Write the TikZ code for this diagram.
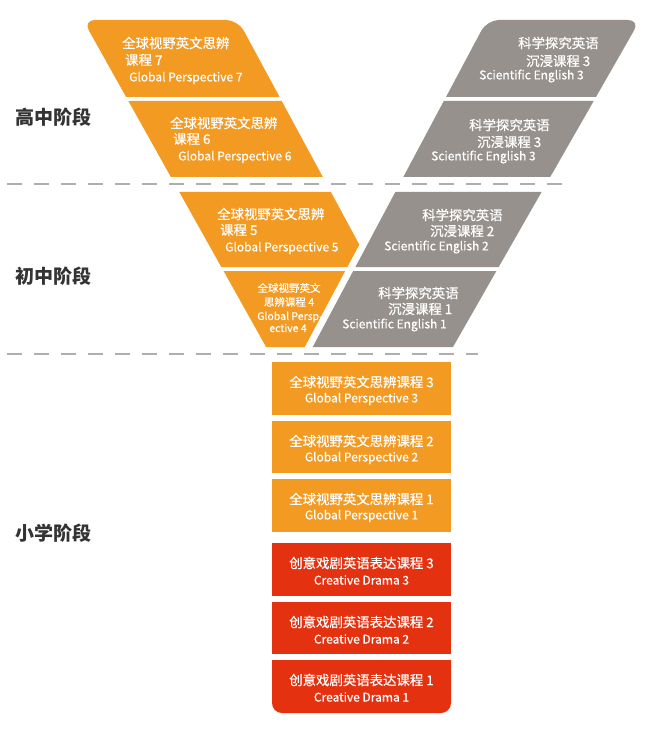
\documentclass[tikz,border=0pt]{standalone}
\usepackage{fontspec}
\setmainfont{Noto Sans CJK SC}
\newfontfamily\medfont{Noto Sans CJK SC}[FakeBold=0.7]
\usetikzlibrary{calc}
\definecolor{gporange}{HTML}{F29A22}
\definecolor{segray}{HTML}{96918C}
\definecolor{cdred}{HTML}{E4310F}
\definecolor{stagecol}{HTML}{333333}
\definecolor{dashcol}{HTML}{AEAEAE}
\newcommand{\lat}[1]{{\fontsize{12}{14}\selectfont #1}}
\tikzset{
  txt/.style={text=white, inner sep=0pt, font=\medfont\fontsize{13.4}{15}\selectfont},
  txtw/.style={txt, anchor=west},
  txts/.style={text=white, inner sep=0pt, font=\medfont\fontsize{10.5}{12}\selectfont},
  stage/.style={anchor=west, inner sep=0pt, text=stagecol, font=\fontsize{19}{22}\selectfont\bfseries},
  divider/.style={dashcol, line width=1.6pt, dash pattern=on 15pt off 12pt},
}
\begin{document}
\begin{tikzpicture}[x=1pt,y=-1pt]
\useasboundingbox[fill=white] (0,0) rectangle (650,735);

% ---- left (orange) arm of the V
\fill[gporange] (126.1,97) [rounded corners=12pt] -- (83,20) -- (238,20) [sharp corners] -- (279.6,97) -- cycle;
\fill[gporange] (128.4,101) -- (281.7,101) -- (322.8,177) -- (170.9,177) -- cycle;
\fill[gporange] (179.3,192) -- (330.9,192) -- (359.3,244.6) -- (347.4,267) -- (221.3,267) -- cycle;
\fill[gporange] (223.6,271) -- (345.2,271) -- (304.7,347) -- (266.1,347) -- cycle;

% ---- right (gray) arm of the V
\fill[segray] (446,97) [rounded corners=12pt] -- (487,20) -- (640,20) [sharp corners] -- (596,97) -- cycle;
\fill[segray] (443.8,101) -- (593.7,101) -- (550.2,177) -- (403.3,177) -- cycle;
\fill[segray] (395.3,192) -- (541.6,192) -- (498.7,267) -- (355.4,267) -- cycle;
\fill[segray] (353.2,271) -- (496.4,271) -- (453,347) -- (312.7,347) -- cycle;

% ---- bottom stack
\fill[gporange] (272,362) rectangle (451,415);
\fill[gporange] (272,421) rectangle (451,473);
\fill[gporange] (272,479) rectangle (451,532);
\fill[cdred] (272,543) rectangle (451,596);
\fill[cdred] (272,602) rectangle (451,654);
\fill[cdred] (272,660) [rounded corners=10pt] -- (272,713) -- (451,713) [sharp corners] -- (451,660) -- cycle;

% ---- dividers
\coordinate (d1a) at (7,184);
\coordinate (d1b) at (563,184);
\coordinate (d2a) at (7,354);
\coordinate (d2b) at (478,354);
\draw[divider] (d1a) -- (d1b);
\draw[divider] (d2a) -- (d2b);

% ---- stage labels
\node[stage] (s1) at (15,117) {高中阶段};
\node[stage] (s2) at (15,276) {初中阶段};
\node[stage] (s3) at (15,533) {小学阶段};

% ---- orange V texts
\node[txtw] (o7a) at (122,43) {全球视野英文思辨};
\node[txtw] (o7b) at (125,60) {课程 7};
\node[txtw] (o7c) at (129,78) {\lat{Global Perspective 7}};
\node[txtw] (o6a) at (170,123) {全球视野英文思辨};
\node[txtw] (o6b) at (173,139) {课程 6};
\node[txtw] (o6c) at (178,157) {\lat{Global Perspective 6}};
\node[txtw] (o5a) at (217,214) {全球视野英文思辨};
\node[txtw] (o5b) at (220,230) {课程 5};
\node[txtw] (o5c) at (225,248) {\lat{Global Perspective 5}};
\node[txts] (o4a) at (289,288) {全球视野英文};
\node[txts] (o4b) at (289,302) {思辨课程 4};
\node[txts] (o4c) at (290,317) {Global Persp-};
\node[txts] (o4d) at (288,328) {ective 4};

% ---- gray V texts
\node[txtw] (g3a) at (518,43) {科学探究英语};
\node[txtw] (g3b) at (526,61) {沉浸课程 3};
\node[txtw] (g3c) at (479,76) {\lat{Scientific English 3}};
\node[txtw] (g3d) at (469,125) {科学探究英语};
\node[txtw] (g3e) at (477,142) {沉浸课程 3};
\node[txtw] (g3f) at (431,157) {\lat{Scientific English 3}};
\node[txtw] (g2a) at (422,215) {科学探究英语};
\node[txtw] (g2b) at (430,231) {沉浸课程 2};
\node[txtw] (g2c) at (384,247) {\lat{Scientific English 2}};
\node[txtw] (g1a) at (378,293) {科学探究英语};
\node[txtw] (g1b) at (388,309) {沉浸课程 1};
\node[txtw] (g1c) at (342,325) {\lat{Scientific English 1}};

% ---- bottom texts
\node[txt] (b3a) at (361.5,382) {全球视野英文思辨课程 3};
\node[txt] (b3b) at (361.5,399) {\lat{Global Perspective 3}};
\node[txt] (b2a) at (361.5,441) {全球视野英文思辨课程 2};
\node[txt] (b2b) at (361.5,458) {\lat{Global Perspective 2}};
\node[txt] (b1a) at (361.5,499) {全球视野英文思辨课程 1};
\node[txt] (b1b) at (361.5,516) {\lat{Global Perspective 1}};
\node[txt] (c3a) at (361.5,563) {创意戏剧英语表达课程 3};
\node[txt] (c3b) at (361.5,580) {\lat{Creative Drama 3}};
\node[txt] (c2a) at (361.5,622) {创意戏剧英语表达课程 2};
\node[txt] (c2b) at (361.5,639) {\lat{Creative Drama 2}};
\node[txt] (c1a) at (361.5,680) {创意戏剧英语表达课程 1};
\node[txt] (c1b) at (361.5,697) {\lat{Creative Drama 1}};
\end{tikzpicture}
\end{document}
